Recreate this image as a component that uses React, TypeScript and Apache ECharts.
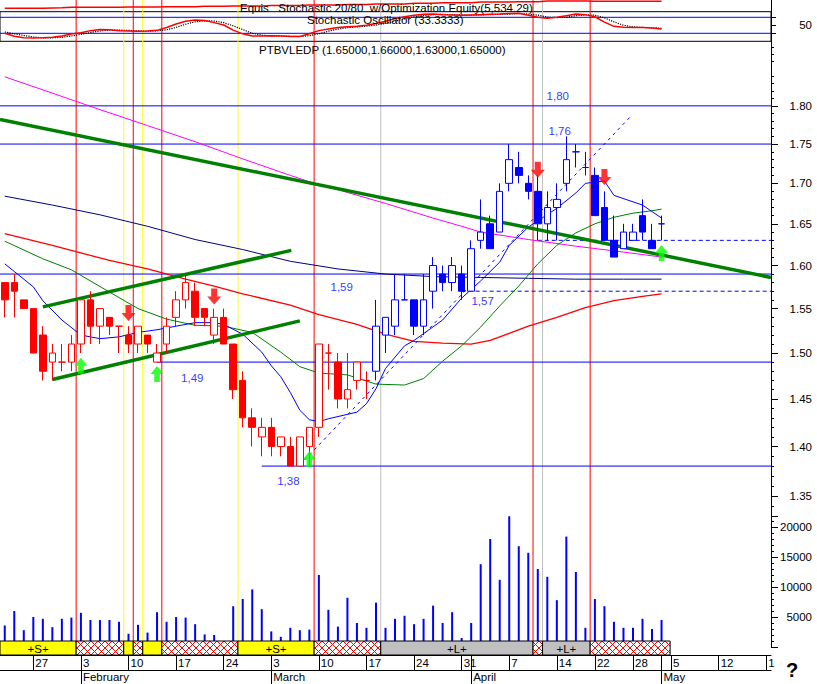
import React, { useEffect, useRef } from "react";
import * as echarts from "echarts";

const FONT = "'Liberation Sans', Arial, Helvetica, sans-serif";

// ---------- daily data: index 0 = 22 Jan 2003 ... index 69 = 2 May 2003 ----------
const opens = [
  1.58, 1.58, 1.56, 1.55, 1.52, 1.49, 1.49, 1.49, 1.51, 1.56,
  1.53, 1.54, 1.53, 1.52, 1.51, 1.52, 1.49, 1.51, 1.54, 1.56,
  1.57, 1.55, 1.52, 1.54, 1.51, 1.47, 1.43, 1.41, 1.42, 1.40,
  1.40, 1.38, 1.40, 1.42, 1.50, 1.49, 1.45, 1.47, 1.47, 1.48,
  1.52, 1.53, 1.56, 1.56, 1.53, 1.57, 1.59, 1.58, 1.59, 1.57,
  1.63, 1.65, 1.64, 1.70, 1.72, 1.70, 1.69, 1.65, 1.67, 1.70,
  1.74, 1.72, 1.71, 1.67, 1.63, 1.62, 1.63, 1.66, 1.63, 1.65,
];
const closes = [
  1.56, 1.57, 1.55, 1.50, 1.48, 1.50, 1.49, 1.51, 1.56, 1.53,
  1.55, 1.53, 1.53, 1.51, 1.53, 1.51, 1.50, 1.53, 1.56, 1.58,
  1.54, 1.54, 1.54, 1.51, 1.46, 1.43, 1.42, 1.42, 1.40, 1.41,
  1.38, 1.41, 1.42, 1.51, 1.50, 1.45, 1.46, 1.49, 1.47, 1.53,
  1.54, 1.56, 1.56, 1.53, 1.56, 1.60, 1.58, 1.60, 1.57, 1.62,
  1.64, 1.62, 1.69, 1.73, 1.71, 1.69, 1.65, 1.67, 1.68, 1.73,
  1.74, 1.72, 1.66, 1.63, 1.61, 1.64, 1.64, 1.64, 1.62, 1.65,
];
const lows = [
  1.54, 1.54, 1.55, 1.50, 1.47, 1.47, 1.48, 1.48, 1.50, 1.51,
  1.51, 1.52, 1.50, 1.50, 1.50, 1.50, 1.49, 1.50, 1.53, 1.55,
  1.53, 1.53, 1.51, 1.51, 1.45, 1.42, 1.40, 1.39, 1.39, 1.39,
  1.38, 1.38, 1.38, 1.41, 1.46, 1.44, 1.44, 1.46, 1.45, 1.47,
  1.50, 1.52, 1.56, 1.52, 1.52, 1.55, 1.57, 1.57, 1.56, 1.57,
  1.62, 1.62, 1.64, 1.69, 1.70, 1.68, 1.63, 1.63, 1.63, 1.69,
  1.72, 1.71, 1.66, 1.63, 1.61, 1.62, 1.63, 1.63, 1.62, 1.63,
];
const highs = [
  1.58, 1.59, 1.56, 1.55, 1.53, 1.51, 1.51, 1.52, 1.56, 1.57,
  1.55, 1.54, 1.53, 1.53, 1.53, 1.52, 1.51, 1.54, 1.57, 1.59,
  1.58, 1.55, 1.55, 1.55, 1.51, 1.48, 1.44, 1.43, 1.43, 1.41,
  1.41, 1.41, 1.42, 1.51, 1.51, 1.50, 1.50, 1.49, 1.48, 1.56,
  1.54, 1.59, 1.59, 1.56, 1.59, 1.61, 1.60, 1.61, 1.60, 1.63,
  1.68, 1.66, 1.70, 1.75, 1.74, 1.71, 1.71, 1.69, 1.70, 1.76,
  1.75, 1.74, 1.72, 1.69, 1.66, 1.65, 1.65, 1.68, 1.65, 1.66,
];
const volumes = [
  3600, 6000, 2800, 5000, 4700, 3300, 4700, 4900, 5700, 4500,
  4500, 4500, 4200, 2200, 3700, 2400, 5800, 4200, 5000, 4900,
  3800, 2100, 2000, 400, 6800, 8000, 9600, 6300, 2600, 1700,
  3200, 2800, 2900, 12000, 6200, 3400, 8200, 4000, 3200, 7400,
  3200, 4700, 5200, 3800, 4700, 6900, 4000, 5800, 1500, 4000,
  13800, 18000, 11200, 21800, 16800, 15700, 13000, 11700, 7800, 18400,
  12500, 3200, 8000, 6800, 4200, 3200, 3200, 4700, 3000, 4500,
];
const stochK = [
  20, 9, 3, 2, 3, 5, 10, 17, 22, 30,
  34, 33, 30, 29, 28, 29, 31, 42, 55, 65,
  70, 68, 60, 51, 32, 18, 10, 10, 11, 10,
  8, 8, 18, 30, 36, 42, 45, 46, 50, 57,
  65, 75, 82, 88, 91, 92, 90, 89, 88, 89,
  90, 91, 92, 94, 95, 88, 80, 76, 80, 86,
  92, 90, 82, 62, 46, 43, 42, 42, 40, 36,
];
const stochD = [
  25, 18, 12, 6, 3, 3, 5, 10, 16, 23,
  29, 32, 32, 31, 29, 28, 29, 33, 42, 54,
  63, 67, 66, 60, 48, 34, 20, 13, 10, 10,
  9, 8, 11, 18, 28, 36, 41, 44, 47, 51,
  57, 66, 74, 82, 87, 90, 91, 90, 89, 88,
  89, 90, 91, 92, 94, 92, 88, 81, 79, 80,
  86, 89, 88, 78, 63, 50, 44, 42, 41, 39,
];
const equity = [
  4902, 4902, 4902, 4902, 4902, 4930, 4960, 4992, 4992, 4992,
  4992, 4992, 4992, 5020, 5020, 5020, 5020, 5052, 5052, 5052,
  5052, 5080, 5080, 5080, 5112, 5112, 5112, 5112, 5160, 5160,
  5160, 5160, 5201, 5201, 5201, 5201, 5250, 5250, 5250, 5291,
  5291, 5291, 5291, 5350, 5350, 5350, 5411, 5411, 5411, 5411,
  5460, 5460, 5460, 5460, 5500, 5500, 5500, 5560, 5560, 5560,
  5560, 5560, 5545, 5545, 5545, 5545, 5534, 5534, 5534, 5534,
];

// moving averages: [day index, price]
const maBlue = [[0,1.602],[1,1.593],[3,1.575],[4,1.559],[6,1.537],[8,1.520],[10,1.516],[12,1.518],[14,1.523],[16,1.526],[18,1.530],[20,1.534],[22,1.534],[23,1.532],[25,1.521],[27,1.501],[28,1.486],[29,1.474],[30,1.457],[31,1.438],[32,1.428],[33,1.426],[34,1.429],[37,1.436],[38,1.445],[39,1.461],[40,1.483],[42,1.508],[43,1.514],[46,1.537],[48,1.562],[50,1.582],[52,1.604],[53,1.624],[55,1.646],[58,1.669],[60,1.688],[61,1.700],[63,1.703],[64,1.685],[67,1.673],[69,1.657]];
const maGreen = [[0,1.629],[4,1.608],[7,1.595],[11,1.569],[14,1.550],[17,1.538],[20,1.531],[23,1.530],[26,1.523],[29,1.501],[31,1.485],[33,1.478],[36,1.476],[39,1.466],[42,1.465],[44,1.472],[46,1.491],[48,1.508],[50,1.529],[52,1.553],[54,1.576],[56,1.602],[58,1.624],[60,1.639],[62,1.650],[64,1.658],[66,1.663],[68,1.666],[69,1.668]];
const maRed = [[0,1.638],[5,1.624],[11,1.606],[15,1.596],[19,1.584],[22,1.576],[25,1.567],[30,1.554],[33,1.543],[37,1.532],[40,1.521],[43,1.513],[46,1.511],[49,1.510],[51,1.514],[53,1.522],[55,1.530],[58,1.540],[61,1.551],[64,1.559],[67,1.564],[69,1.567]];
const maNavy = [[0,1.684],[5,1.673],[10,1.661],[15,1.647],[20,1.631],[25,1.619],[30,1.605],[35,1.596],[40,1.590],[45,1.587],[50,1.586],[55,1.585],[60,1.584],[65,1.584],[69,1.584]];
const maMagenta = [[0,1.839],[5,1.817],[10,1.795],[15,1.774],[20,1.753],[25,1.731],[30,1.710],[33,1.698],[35,1.692],[40,1.675],[45,1.657],[48,1.647],[50,1.640],[55,1.631],[60,1.623],[65,1.616],[69,1.610]];

// trend lines (endpoints)
const trendLong = [[-0.5, 1.782], [80.5, 1.586]];
const channelUpper = [[4.0, 1.552], [30.1, 1.618]];
const channelLower = [[5.0, 1.471], [31.0, 1.536]];
const trendDashed = [[31.0, 1.381], [65.9, 1.788]];

// support / resistance levels
const levelPrices = [1.80, 1.75, 1.59, 1.49, 1.38];
const levelStart = [-0.5, -0.5, -0.5, 16, 27];
const dashedPrices = [1.63, 1.57];
const dashedStart = [56, 48];
const levelLabels = ["1,80", "1,76", "1,59", "1,49", "1,38", "1,57"];
const levelLabelPrice = [1.80, 1.76, 1.59, 1.49, 1.38, 1.57];
const levelLabelIndex = [58.1, 58.3, 35.4, 19.7, 29.8, 50.2];

// signals
const sellArrows = [[13, 1.545], [22, 1.564], [56, 1.717], [63, 1.708]];
const buyArrows = [[8, 1.486], [16, 1.477], [32, 1.387], [69, 1.615]];
const vLineIndex = [7.5, 12.5, 13.5, 14.5, 16.5, 24.5, 32.5, 39.5, 55.5, 56.5, 61.5];
const vLineKind = ["exit", "short", "exit", "short", "exit", "short", "exit", "long", "exit", "long", "exit"];
const signalStart = [-0.5, 7.5, 12.5, 13.5, 14.5, 16.5, 24.5, 32.5, 39.5, 55.5, 56.5, 61.5];
const signalEnd = [7.5, 12.5, 13.5, 14.5, 16.5, 24.5, 32.5, 39.5, 55.5, 56.5, 61.5, 69.9];
const signalKind = [0, 1, 0, 1, 0, 1, 0, 1, 2, 1, 2, 1]; // 0 short, 1 out, 2 long
const signalLabels = ["+S+", "", "", "", "", "", "+S+", "", "+L+", "", "+L+", ""];

// axes
const priceTicks = [1.35, 1.4, 1.45, 1.5, 1.55, 1.6, 1.65, 1.7, 1.75, 1.8];
const stochTicks = [20, 50, 80];
const stochLabelValues = [50];
const stochLevels = [80, 20];
const slotCount = 81;
const dateTickIndex = [3, 8, 13, 18, 23, 28, 33, 38, 43, 48, 53, 58, 62, 66, 70, 75, 80];
const dateTickLabels = ["27", "3", "10", "17", "24", "3", "10", "17", "24", "31", "7", "14", "22", "28", "5", "12", "1"];
const monthTickIndex = [8, 28, 49, 69];
const monthLabels = ["February", "March", "April", "May"];
const redCandleEnd = 39;

// ---------- styling / layout ----------
const PLOT_W = 771;
const PRICE_MIN = 1.3301;
const PRICE_MAX = 1.8878;
const LABEL_DY = [-10, -5, 13, 16, 15, 10];
const VCOLORS: Record<string, string> = { exit: "#ff0000", short: "#ffff00", long: "#c0c0c0" };
const DOWN_ARROW = "path://M4,0L10,0L10,8L14,8L7,16L0,8L4,8Z";
const UP_ARROW = "path://M7,0L14,8L10,8L10,16L4,16L4,8L0,8Z";

function buildOption(): any {
  const xVal = (g: number) => ({ type: "value", gridIndex: g, min: -0.5, max: 80.5, show: false });
  const hiddenY = (g: number) => ({ type: "value", gridIndex: g, min: 0, max: 1, show: false });
  const blackLine = { show: true, onZero: false, lineStyle: { color: "#000", width: 1 } };
  const rightLabel = { color: "#000", fontSize: 11.5, fontFamily: FONT, margin: 41, align: "right" };
  const seg = (xi: number, yi: number, data: any[], color: string, width: number, type: any = "solid", z = 3) => ({
    type: "line", xAxisIndex: xi, yAxisIndex: yi, data, symbol: "none", silent: true, z,
    lineStyle: { color, width, type },
  });

  const minorPriceTicks: number[] = [];
  for (let k = 134; k <= 188; k++) if (k % 5 !== 0) minorPriceTicks.push(k / 100);

  const slots = Array.from({ length: slotCount }, (_, i) => String(i));
  const dateLabelMap = new Map<number, string>();
  dateTickIndex.forEach((idx, k) => dateLabelMap.set(idx, dateTickLabels[k]));
  const dateTickSet = new Set<number>([...dateTickIndex, ...monthTickIndex]);
  const monthLabelMap = new Map<number, string>();
  monthTickIndex.forEach((idx, k) => monthLabelMap.set(idx, monthLabels[k]));

  const candles = (from: number, to: number) =>
    opens.slice(from, to).map((o, k) => {
      const i = from + k;
      return [i, o, closes[i], lows[i], highs[i]];
    });

  const renderStrip = (params: any, api: any) => {
    const idx = params.dataIndex;
    const s = api.value(0), e = api.value(1), kind = api.value(2);
    const a = api.coord([s, 0]), b = api.coord([e, 0]);
    const cs = params.coordSys;
    const top = cs.y, h = cs.height;
    const x0 = a[0], x1 = b[0];
    const children: any[] = [];
    const fill = kind === 0 ? "#ffff00" : kind === 2 ? "#c0c0c0" : "#ffffff";
    children.push({ type: "rect", shape: { x: x0, y: top, width: x1 - x0, height: h }, style: { fill, stroke: "none" } });
    if (kind === 1) {
      const P = 7;
      const start = Math.floor((x0 - h) / P) * P;
      for (let k = start; k < x1; k += P) {
        const t0 = Math.max(0, (x0 - k) / h), t1 = Math.min(1, (x1 - k) / h);
        if (t1 > t0) {
          children.push({ type: "line", shape: { x1: k + h * t0, y1: top + h * t0, x2: k + h * t1, y2: top + h * t1 }, style: { stroke: "#ff0000", lineWidth: 1 } });
          children.push({ type: "line", shape: { x1: k + h * t0, y1: top + h - h * t0, x2: k + h * t1, y2: top + h - h * t1 }, style: { stroke: "#ff0000", lineWidth: 1 } });
        }
      }
    }
    children.push({ type: "rect", shape: { x: x0, y: top, width: x1 - x0, height: h }, style: { fill: "none", stroke: "#000", lineWidth: 1 } });
    const label = signalLabels[idx];
    if (label) {
      children.push({ type: "text", style: { text: label, x: (x0 + x1) / 2, y: top + h / 2 + 1, align: "center", verticalAlign: "middle", fontSize: 11.5, fontFamily: FONT, fill: "#000" } });
    }
    return { type: "group", children };
  };

  const series: any[] = [];

  // vertical signal lines (behind everything)
  vLineIndex.forEach((x, k) => series.push(seg(7, 8, [[x, 0], [x, 1]], VCOLORS[vLineKind[k]], 1, "solid", 1)));

  // equity
  series.push(seg(0, 0, equity.map((v, i) => [i, v]), "#ff0000", 1.5));
  // stochastic
  stochLevels.forEach((lv) => series.push(seg(1, 1, [[-0.5, lv], [80.5, lv]], "#0000ff", 1, "solid", 2)));
  series.push(seg(1, 1, stochD.map((v, i) => [i, v]), "#000000", 1.2, "dotted"));
  series.push(seg(1, 1, stochK.map((v, i) => [i, v]), "#ff0000", 1.5));

  // price levels
  levelPrices.forEach((p, k) => series.push(seg(2, 2, [[levelStart[k], p], [80.5, p]], "#0000ff", 1, "solid", 2)));
  dashedPrices.forEach((p, k) => series.push(seg(2, 2, [[dashedStart[k], p], [80.5, p]], "#0000ff", 1, [4, 3], 2)));

  // moving averages
  series.push(seg(2, 2, maMagenta, "#ff00ff", 1));
  series.push(seg(2, 2, maNavy, "#000080", 1));
  series.push(seg(2, 2, maRed, "#ff0000", 1.3));
  series.push(seg(2, 2, maGreen, "#008000", 1));
  series.push(seg(2, 2, maBlue, "#0000ff", 1));

  // trend lines
  series.push(seg(2, 2, trendLong, "#008000", 3.5, "solid", 3));
  series.push(seg(2, 2, channelUpper, "#008000", 3.5, "solid", 3));
  series.push(seg(2, 2, channelLower, "#008000", 3.5, "solid", 3));
  series.push(seg(2, 2, trendDashed, "#0000ff", 1, [3, 4], 3));

  // candles
  series.push({
    type: "candlestick", xAxisIndex: 2, yAxisIndex: 2, data: candles(0, redCandleEnd), barWidth: 7, z: 4,
    itemStyle: { color: "#ffffff", color0: "#ff0000", borderColor: "#ff0000", borderColor0: "#ff0000", borderColorDoji: "#ff0000", borderWidth: 1 },
  });
  series.push({
    type: "candlestick", xAxisIndex: 2, yAxisIndex: 2, data: candles(redCandleEnd, opens.length), barWidth: 7, z: 4,
    itemStyle: { color: "#ffffff", color0: "#0000ff", borderColor: "#0000ff", borderColor0: "#0000ff", borderColorDoji: "#0000ff", borderWidth: 1 },
  });

  // arrows
  series.push({ type: "scatter", xAxisIndex: 2, yAxisIndex: 2, data: sellArrows, symbol: DOWN_ARROW, symbolSize: [14, 16], itemStyle: { color: "#ff0000" }, z: 6, silent: true });
  series.push({ type: "scatter", xAxisIndex: 2, yAxisIndex: 2, data: buyArrows, symbol: UP_ARROW, symbolSize: [13, 16], itemStyle: { color: "#00ff00" }, z: 6, silent: true });

  // level labels
  series.push({
    type: "scatter", xAxisIndex: 2, yAxisIndex: 2, symbol: "rect", symbolSize: 1, z: 6, silent: true,
    itemStyle: { color: "rgba(0,0,0,0)" },
    label: { show: true, position: "inside", color: "#0000ff", fontSize: 11.5, fontFamily: FONT },
    data: levelLabelIndex.map((x, k) => ({
      value: [x, levelLabelPrice[k]],
      label: { formatter: levelLabels[k], offset: [0, LABEL_DY[k]] },
    })),
  });

  // volume
  series.push({
    type: "bar", xAxisIndex: 3, yAxisIndex: 4, data: volumes.map((v, i) => [i, v]), barWidth: 2, z: 3, silent: true,
    itemStyle: { color: "#0000ff" },
  });

  // signal strip
  series.push({
    type: "custom", xAxisIndex: 4, yAxisIndex: 5, z: 10, silent: true,
    data: signalStart.map((s, k) => [s, signalEnd[k], signalKind[k]]),
    encode: { x: [0, 1] },
    renderItem: renderStrip,
  });

  const titleStyle = { fontSize: 11.5, fontWeight: "normal", fontFamily: FONT, color: "#000" };

  return {
    animation: false,
    backgroundColor: "#ffffff",
    title: [
      { text: "Equis   Stochastic 20/80  w/Optimization Equity(5,534.29)", left: 240, top: 2, padding: 0, textStyle: titleStyle },
      { text: "Stochastic Oscillator (33.3333)", left: 307, top: 14, padding: 0, textStyle: titleStyle },
      { text: "PTBVLEDP (1.65000,1.66000,1.63000,1.65000)", left: 259, top: 44, padding: 0, textStyle: titleStyle },
    ],
    graphic: [
      { type: "text", x: 786, y: 660, style: { text: "?", fontSize: 20, fontWeight: "bold", fontFamily: FONT, fill: "#000" } },
    ],
    grid: [
      { left: 0, top: 0, width: PLOT_W, height: 11.7 },
      { left: 0, top: 11.7, width: PLOT_W, height: 29.6, show: true, borderColor: "#000", borderWidth: 1, backgroundColor: "transparent" },
      { left: 0, top: 41.3, width: PLOT_W, height: 474.7 },
      { left: 0, top: 516, width: PLOT_W, height: 131 },
      { left: 0, top: 641, width: PLOT_W, height: 14 },
      { left: 0, top: 655, width: PLOT_W, height: 15 },
      { left: 0, top: 670, width: PLOT_W, height: 14 },
      { left: 0, top: 0, width: PLOT_W, height: 641 },
      { left: 0, top: 41.3, width: PLOT_W, height: 474.7 },
    ],
    xAxis: [
      xVal(0), xVal(1), xVal(2), xVal(3), xVal(4),
      {
        type: "category", gridIndex: 5, data: slots, position: "top", boundaryGap: true,
        axisLine: blackLine,
        axisTick: { show: true, inside: true, length: 15, alignWithLabel: true, interval: (i: number) => dateTickSet.has(i), lineStyle: { color: "#000" } },
        axisLabel: {
          show: true, inside: true, margin: 2, align: "left", verticalAlign: "top", padding: [0, 0, 0, 2],
          interval: (i: number) => dateLabelMap.has(i),
          formatter: (_v: string, i: number) => dateLabelMap.get(i) ?? "",
          color: "#000", fontSize: 11.5, fontFamily: FONT,
        },
        splitLine: { show: false },
      },
      {
        type: "category", gridIndex: 6, data: slots, position: "top", boundaryGap: true,
        axisLine: blackLine,
        axisTick: { show: true, inside: true, length: 14, alignWithLabel: true, interval: (i: number) => monthLabelMap.has(i), lineStyle: { color: "#000" } },
        axisLabel: {
          show: true, inside: true, margin: 1, align: "left", verticalAlign: "top", padding: [0, 0, 0, 2],
          interval: (i: number) => monthLabelMap.has(i),
          formatter: (_v: string, i: number) => monthLabelMap.get(i) ?? "",
          color: "#000", fontSize: 11.5, fontFamily: FONT,
        },
        splitLine: { show: false },
      },
      xVal(7),
      xVal(8),
    ],
    yAxis: [
      { type: "value", gridIndex: 0, min: 4600, max: 5650, position: "right", axisLine: blackLine, axisTick: { show: false }, axisLabel: { show: false }, splitLine: { show: false } },
      {
        type: "value", gridIndex: 1, min: -10, max: 101, position: "right", axisLine: blackLine,
        axisTick: { show: true, customValues: stochTicks, length: 5, lineStyle: { color: "#000" } },
        axisLabel: { ...rightLabel, customValues: stochLabelValues, formatter: (v: number) => String(v) },
        splitLine: { show: false },
      },
      {
        type: "log", logBase: 10, gridIndex: 2, min: PRICE_MIN, max: PRICE_MAX, position: "right", axisLine: blackLine,
        axisTick: { show: true, customValues: priceTicks, length: 7, lineStyle: { color: "#000" } },
        axisLabel: { ...rightLabel, customValues: priceTicks, formatter: (v: number) => v.toFixed(2) },
        splitLine: { show: false }, minorTick: { show: false }, minorSplitLine: { show: false },
      },
      {
        type: "log", logBase: 10, gridIndex: 8, min: PRICE_MIN, max: PRICE_MAX, position: "right",
        axisLine: { show: false, onZero: false },
        axisTick: { show: true, customValues: minorPriceTicks, length: 3, lineStyle: { color: "#000" } },
        axisLabel: { show: false }, splitLine: { show: false },
      },
      {
        type: "value", gridIndex: 3, min: 0, max: 21833, interval: 5000, position: "right", axisLine: blackLine,
        axisTick: { show: true, length: 7, lineStyle: { color: "#000" } },
        minorTick: { show: true, splitNumber: 5, length: 3, lineStyle: { color: "#000" } },
        axisLabel: { ...rightLabel, showMinLabel: false, showMaxLabel: false, formatter: (v: number) => String(v) },
        splitLine: { show: false }, minorSplitLine: { show: false },
      },
      hiddenY(4), hiddenY(5), hiddenY(6), hiddenY(7),
    ],
    series,
  };
}

export default function App() {
  const ref = useRef<HTMLDivElement>(null);
  useEffect(() => {
    if (!ref.current) return;
    const chart = echarts.init(ref.current, null, { renderer: "svg" });
    chart.setOption(buildOption());
    return () => chart.dispose();
  }, []);
  return (
    <div
      ref={ref}
      style={{ position: "absolute", left: 0, top: 0, width: 817, height: 684, background: "#fff" }}
    />
  );
}
